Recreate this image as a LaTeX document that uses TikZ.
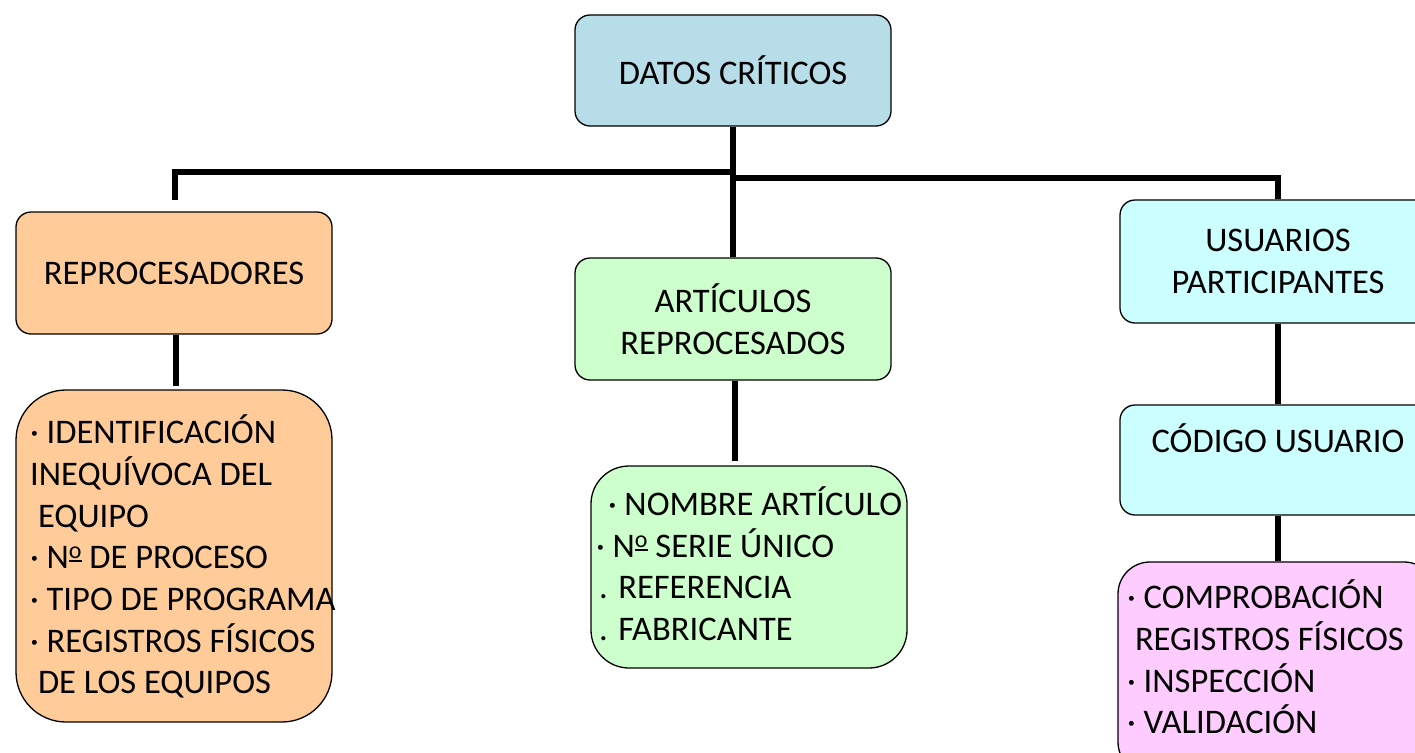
\documentclass[tikz,border=0pt]{standalone}
\usepackage{fontspec}
\setmainfont{Carlito}
\definecolor{cdatos}{RGB}{183,222,232}
\definecolor{crep}{RGB}{255,204,153}
\definecolor{cart}{RGB}{204,255,204}
\definecolor{cusu}{RGB}{204,255,255}
\definecolor{cpink}{RGB}{255,204,255}
\newcommand{\ordmasc}{\raisebox{0.27em}{\fontsize{24}{24}\selectfont\setbox0\hbox{o}\rlap{\rule[-0.12em]{\wd0}{0.07em}}\box0}}
\tikzset{
  txt/.style={font=\fontsize{34.5}{42}\selectfont, inner sep=0pt},
  box/.style={draw=black, line width=1.3pt, rounded corners=15pt, inner sep=0pt, txt, align=center},
  conn/.style={draw=black, line width=5.5pt},
}
\begin{document}
\begin{tikzpicture}[x=1pt,y=-1pt]
\path[use as bounding box, fill=white] (0,0) rectangle (1415,752);
\clip (0,0) rectangle (1415,752);
% boxes
\node[box, fill=cdatos, minimum width=316pt, minimum height=111pt] (datos) at (733,70.5) {DATOS CRÍTICOS};
\node[box, fill=crep, minimum width=316pt, minimum height=122pt] (rep) at (174,273) {REPROCESADORES};
\node[box, fill=cart, minimum width=316pt, minimum height=122pt] (art) at (733,319) {ARTÍCULOS\\REPROCESADOS};
\node[box, fill=cusu, minimum width=316pt, minimum height=123pt] (usu) at (1278,261.5) {USUARIOS\\PARTICIPANTES};
\node[box, fill=cusu, minimum width=316pt, minimum height=110pt] (cod) at (1278,460) {};
\node[box, fill=crep, rounded corners=50pt, minimum width=316pt, minimum height=332pt] (repd) at (174,556) {};
\node[box, fill=cart, rounded corners=38pt, minimum width=316pt, minimum height=202pt] (artd) at (749,567) {};
\node[box, fill=cpink, rounded corners=32pt, minimum width=318pt, minimum height=212pt] (pink) at (1277,668) {};
% text
\node[txt, anchor=base] (codt) at (1278,452) {CÓDIGO USUARIO};
\node[txt, anchor=base west] (r1) at (30,443) {· IDENTIFICACIÓN};
\node[txt, anchor=base west] (r2) at (30,485) {INEQUÍVOCA DEL};
\node[txt, anchor=base west] (r3) at (30,527) {\ EQUIPO};
\node[txt, anchor=base west] (r4) at (30,568) {· N\ordmasc\ DE PROCESO};
\node[txt, anchor=base west] (r5) at (30,610) {· TIPO DE PROGRAMA};
\node[txt, anchor=base west] (r6) at (30,652) {· REGISTROS FÍSICOS};
\node[txt, anchor=base west] (r7) at (30,693) {\ DE LOS EQUIPOS};
\node[txt, anchor=base west] (a1) at (600,515) {\ · NOMBRE ARTÍCULO};
\node[txt, anchor=base west] (a2) at (596,557) {· N\ordmasc\ SERIE ÚNICO};
\node[txt, anchor=base west] (a3) at (599,598) {. REFERENCIA};
\node[txt, anchor=base west] (a4) at (599,640) {. FABRICANTE};
\node[txt, anchor=base west] (p1) at (1127,608) {· COMPROBACIÓN};
\node[txt, anchor=base west] (p2) at (1127,650) {\ REGISTROS FÍSICOS};
\node[txt, anchor=base west] (p3) at (1127,692) {· INSPECCIÓN};
\node[txt, anchor=base west] (p4) at (1127,733) {· VALIDACIÓN};
% connectors
\coordinate (jl) at (736,172);
\coordinate (repin) at (175,200);
\coordinate (jr) at (733,178);
\coordinate (repdin) at (176,386);
\coordinate (artdin) at (735,461);
\draw[conn] (datos.south) -- (art.north);
\draw[conn] (jl) -| (repin);
\draw[conn] (jr) -| (usu.north);
\draw[conn] (rep.south -| repdin) -- (repdin);
\draw[conn] (art.south -| artdin) -- (artdin);
\draw[conn] (usu.south) -- (cod.north);
\draw[conn] (cod.south) -- (cod.south |- pink.north);
\end{tikzpicture}
\end{document}
